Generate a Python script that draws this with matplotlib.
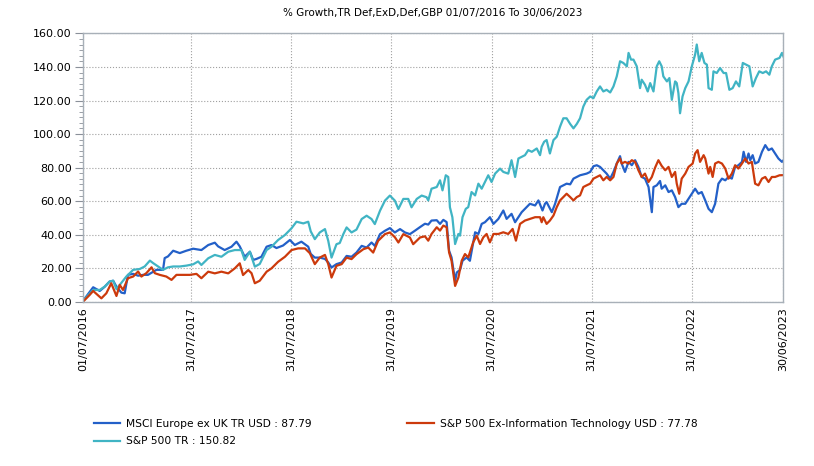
import matplotlib
matplotlib.use("Agg")
import matplotlib.pyplot as plt
import matplotlib.ticker as ticker
import numpy as np

# months after 01/07/2016 and % growth
msci_months = [0, 1.2, 2.0, 2.6, 3.2, 3.6, 4.0, 4.6, 5.0, 5.4, 6.0, 6.6, 7.2, 7.8, 8.8, 9.6, 9.8,
               10.2, 10.8, 11.6, 12.4, 13.2, 14.2, 15.0, 15.8, 16.2, 17.0, 17.8, 18.4, 18.8,
               19.4, 20.0, 20.4, 20.8, 21.4, 22.0, 22.6, 23.2, 24.0, 24.8, 25.4, 26.2, 27.0,
               27.3, 27.8, 28.4, 29.0, 29.4, 29.8, 30.4, 31.0, 31.6, 32.2, 32.8, 33.4, 34.0,
               34.6, 35.0, 35.6, 36.2, 36.8, 37.4, 38.0, 38.6, 39.2, 39.8, 40.4, 41.0, 41.4,
               41.8, 42.4, 42.8, 43.2, 43.6, 43.9, 44.2, 44.6, 44.8, 45.2, 45.5, 46.0, 46.4,
               47.0, 47.4, 47.8, 48.2, 48.8, 49.2, 49.8, 50.4, 50.8, 51.4, 51.8, 52.2, 52.6,
               53.0, 53.6, 54.2, 54.6, 55.1, 55.4, 55.6, 56.2, 56.6, 57.2, 57.6, 58.0, 58.4,
               58.8, 59.2, 59.6, 60.4, 60.8, 61.2, 61.6, 62.0, 62.4, 62.8, 63.2, 63.6, 64.0,
               64.4, 64.6, 65.0, 65.4, 65.8, 66.2, 66.6, 67.0, 67.4, 67.8, 68.2, 68.4, 68.8,
               69.2, 69.4, 69.8, 70.2, 70.6, 71.0, 71.4, 71.8, 72.2, 72.6, 73.0, 73.4, 73.8,
               74.2, 74.6, 75.0, 75.4, 75.8, 76.2, 76.6, 77.0, 77.4, 77.8, 78.2, 78.6, 79.0,
               79.2, 79.5, 79.8, 80.0, 80.3, 80.6, 81.0, 81.4, 81.8, 82.2, 82.6, 83.0, 83.4,
               83.8, 84.0]
msci_values = [0.5, 8.6, 6.4, 8.9, 12.0, 12.5, 9.0, 5.4, 5.0, 16.0, 16.6, 15.5, 16.0, 16.0, 19.0,
               19.0, 26.0, 27.0, 30.4, 29.0, 30.4, 31.6, 30.8, 33.8, 35.2, 33.0, 30.8, 32.8,
               35.8, 33.0, 26.8, 29.8, 24.9, 25.5, 26.8, 32.8, 33.8, 32.0, 33.5, 36.8, 33.8,
               35.8, 32.8, 28.5, 26.3, 26.3, 25.5, 23.4, 20.4, 22.4, 23.4, 27.3, 26.8, 29.3,
               33.3, 32.3, 35.3, 33.3, 40.3, 42.3, 43.9, 41.3, 43.3, 41.3, 40.3, 42.3, 44.5,
               46.5, 46.0, 48.4, 48.6, 46.4, 48.8, 47.5, 30.4, 26.4, 12.4, 17.4, 19.0, 24.4,
               26.4, 24.4, 41.4, 40.4, 46.4, 47.4, 50.4, 46.4, 49.4, 54.4, 49.4, 52.4, 47.4,
               50.4, 53.4, 55.4, 58.4, 57.4, 60.4, 54.4, 58.4, 59.4, 53.4, 58.4, 68.4, 69.4,
               70.4, 70.0, 73.4, 74.4, 75.4, 76.4, 77.4, 80.8, 81.4, 80.4, 78.4, 76.4, 73.4,
               77.4, 82.4, 86.8, 82.4, 77.4, 83.4, 81.4, 84.4, 80.4, 74.4, 73.4, 68.4, 53.4,
               68.4, 69.4, 72.0, 67.4, 69.4, 65.4, 66.4, 62.4, 56.4, 58.4, 58.4, 61.4, 64.4,
               67.4, 64.4, 65.4, 60.4, 55.4, 53.4, 58.4, 70.4, 73.4, 72.4, 74.4, 73.4, 80.4,
               81.4, 83.4, 89.4, 83.4, 88.4, 84.4, 87.4, 82.4, 83.4, 89.4, 93.4, 90.4, 91.4,
               88.4, 85.4, 83.4, 84.5]

sp500_months = [0, 1.2, 2.0, 2.6, 3.2, 3.6, 4.0, 4.4, 5.2, 6.0, 6.8, 7.4, 8.0, 8.4, 9.0, 9.6,
                10.2, 10.8, 11.6, 12.4, 13.2, 13.8, 14.2, 15.0, 15.8, 16.6, 17.4, 18.2, 19.0,
                19.4, 20.0, 20.6, 21.2, 22.0, 22.6, 23.4, 24.2, 25.0, 25.6, 26.4, 27.0, 27.3,
                27.8, 28.4, 29.0, 29.4, 29.8, 30.4, 30.8, 31.2, 31.6, 32.2, 32.8, 33.4, 34.0,
                34.6, 35.0, 35.6, 36.2, 36.8, 37.4, 37.8, 38.4, 39.0, 39.4, 40.0, 40.6, 41.2,
                41.4, 41.8, 42.4, 42.8, 43.1, 43.5, 43.8, 44.0, 44.3, 44.6, 45.0, 45.2, 45.5,
                45.9, 46.2, 46.6, 47.0, 47.4, 47.8, 48.2, 48.6, 49.0, 49.4, 50.0, 50.4, 51.0,
                51.4, 51.8, 52.2, 52.6, 53.0, 53.4, 53.8, 54.4, 54.8, 55.0, 55.3, 55.6, 56.0,
                56.4, 56.8, 57.2, 57.6, 58.0, 58.4, 58.8, 59.2, 59.6, 60.0, 60.4, 60.8, 61.2,
                61.6, 62.0, 62.4, 62.8, 63.2, 63.6, 64.0, 64.4, 64.8, 65.2, 65.4, 65.7, 66.0,
                66.4, 66.8, 67.0, 67.4, 67.7, 68.0, 68.4, 68.8, 69.1, 69.4, 69.6, 70.0, 70.3,
                70.6, 71.0, 71.2, 71.4, 71.6, 71.9, 72.2, 72.6, 73.0, 73.4, 73.6, 73.9, 74.2,
                74.5, 74.8, 75.0, 75.4, 75.6, 76.0, 76.4, 76.8, 77.1, 77.5, 77.9, 78.3, 78.7,
                79.1, 79.5, 79.9, 80.3, 80.7, 81.1, 81.5, 81.9, 82.3, 82.6, 83.0, 83.5, 83.8,
                84.0]
sp500_values = [0.5, 7.0, 7.0, 9.0, 12.0, 12.5, 7.5, 10.0, 15.0, 19.0, 19.5, 21.0, 24.5, 23.0,
                21.0, 19.0, 20.5, 21.0, 21.0, 21.5, 22.3, 24.0, 21.9, 25.9, 27.9, 26.8, 29.8,
                30.8, 30.8, 24.9, 29.8, 20.9, 22.5, 30.8, 32.8, 36.8, 39.8, 43.8, 47.7, 46.7,
                47.7, 42.0, 37.3, 41.3, 43.3, 36.3, 26.3, 34.3, 35.0, 40.3, 44.3, 41.3, 43.0,
                49.3, 51.3, 49.3, 46.3, 54.3, 60.3, 63.3, 60.3, 55.3, 61.3, 61.3, 56.3, 61.3,
                63.3, 62.3, 60.4, 67.4, 68.4, 72.4, 66.4, 75.4, 74.4, 56.4, 50.4, 34.4, 40.4,
                39.4, 50.4, 55.4, 56.4, 65.4, 63.4, 70.4, 67.4, 71.4, 75.4, 71.4, 76.4, 79.4,
                77.4, 76.4, 84.4, 74.4, 85.4, 86.4, 87.4, 90.4, 89.4, 91.4, 87.4, 92.4, 95.4,
                96.4, 88.4, 96.4, 98.4, 104.4, 109.4, 109.4, 106.0, 103.4, 106.0, 109.4, 116.4,
                120.4, 122.4, 121.4, 125.4, 128.4, 125.4, 126.4, 124.8, 128.4, 134.4, 143.4,
                142.4, 140.4, 148.4, 144.4, 144.4, 140.4, 127.4, 132.4, 129.4, 125.4, 130.4,
                125.4, 140.4, 143.4, 140.4, 134.4, 131.4, 133.4, 120.4, 131.4, 130.4, 124.4,
                112.4, 122.4, 127.4, 131.4, 140.4, 147.4, 153.4, 143.4, 148.4, 142.4, 141.4,
                127.4, 126.4, 137.4, 136.4, 139.4, 136.4, 136.4, 126.4, 127.4, 131.4, 128.4,
                142.4, 141.4, 140.4, 128.4, 133.4, 137.4, 136.4, 137.4, 135.4, 140.4, 144.4,
                145.4, 148.4, 146.0]

exit_months = [0, 0.8, 1.2, 2.2, 2.8, 3.4, 4.0, 4.4, 4.8, 5.4, 6.0, 6.6, 7.0, 7.6, 8.2, 8.6,
               9.2, 10.0, 10.6, 11.2, 12.0, 12.8, 13.6, 14.2, 15.0, 15.8, 16.6, 17.4, 18.2,
               18.8, 19.2, 19.8, 20.2, 20.6, 21.2, 22.0, 22.6, 23.4, 24.2, 25.0, 25.8, 26.6,
               27.2, 27.8, 28.4, 29.0, 29.4, 29.8, 30.4, 31.0, 31.6, 32.2, 32.8, 33.6, 34.2,
               34.8, 35.4, 36.2, 36.8, 37.4, 37.8, 38.4, 39.2, 39.6, 40.4, 41.0, 41.4, 41.8,
               42.4, 42.8, 43.2, 43.6, 43.9, 44.2, 44.6, 45.0, 45.4, 45.8, 46.2, 46.8, 47.2,
               47.6, 48.0, 48.4, 48.8, 49.2, 49.8, 50.4, 51.0, 51.5, 51.9, 52.4, 53.0, 53.6,
               54.2, 54.8, 55.0, 55.2, 55.6, 56.0, 56.4, 56.8, 57.2, 57.6, 58.0, 58.4, 58.8,
               59.2, 59.6, 60.0, 60.4, 60.8, 61.2, 61.6, 62.0, 62.4, 62.8, 63.2, 63.6, 64.0,
               64.4, 64.6, 65.0, 65.4, 65.8, 66.2, 66.6, 67.0, 67.4, 67.8, 68.2, 68.6, 69.0,
               69.4, 69.8, 70.2, 70.6, 71.0, 71.2, 71.5, 71.8, 72.2, 72.6, 73.1, 73.4, 73.7,
               74.0, 74.4, 74.6, 75.0, 75.2, 75.5, 75.8, 76.2, 76.6, 77.0, 77.4, 77.8, 78.2,
               78.6, 79.0, 79.4, 79.8, 80.2, 80.6, 81.0, 81.4, 81.8, 82.2, 82.6, 83.0, 83.5,
               84.0]
exit_values = [0.0, 4.0, 6.4, 2.0, 5.0, 11.0, 3.4, 10.0, 7.0, 14.0, 15.0, 18.0, 15.0, 17.0,
               20.5, 17.0, 16.0, 15.0, 13.0, 16.0, 16.0, 16.0, 16.6, 14.0, 17.9, 16.9, 17.9,
               16.9, 19.9, 22.9, 15.9, 18.9, 17.0, 11.0, 12.5, 17.9, 19.9, 23.8, 26.8, 30.8,
               31.8, 31.8, 28.9, 22.4, 26.3, 27.9, 22.4, 14.4, 21.4, 22.4, 26.3, 25.4, 28.3,
               31.3, 32.3, 29.3, 36.3, 40.3, 41.3, 38.5, 35.3, 40.3, 38.3, 34.3, 38.3, 39.0,
               36.4, 40.4, 44.4, 42.4, 45.4, 44.4, 29.4, 24.4, 9.4, 14.4, 24.4, 28.4, 26.4,
               35.4, 39.4, 34.4, 38.4, 40.4, 35.4, 40.4, 40.4, 41.4, 40.4, 43.4, 36.4, 46.4,
               48.4, 49.4, 50.4, 50.4, 47.4, 50.4, 46.4, 48.4, 51.4, 56.4, 60.4, 62.4, 64.4,
               62.4, 60.4, 62.4, 63.4, 68.4, 69.4, 70.4, 73.4, 74.4, 75.4, 72.4, 74.4, 72.4,
               74.4, 82.4, 85.4, 82.4, 83.4, 82.4, 84.4, 83.4, 78.4, 74.4, 76.4, 71.4, 74.4,
               80.0, 84.4, 81.0, 78.4, 80.4, 74.4, 77.4, 70.4, 64.4, 73.4, 76.4, 80.4, 82.4,
               88.4, 90.4, 83.4, 87.4, 85.4, 76.4, 80.4, 74.4, 82.4, 83.4, 82.4, 79.4, 73.4,
               76.4, 81.4, 79.4, 82.4, 85.4, 82.4, 83.4, 70.4, 69.4, 73.4, 74.4, 71.4, 74.4,
               74.4, 75.4, 75.5]

labels = ["MSCI Europe ex UK TR USD : 87.79",
          "S&P 500 Ex-Information Technology USD : 77.78",
          "S&P 500 TR : 150.82"]
tick_dates = ["2016-07-01", "2017-07-31", "2018-07-31", "2019-07-31",
              "2020-07-31", "2021-07-31", "2022-07-31", "2023-06-30"]
tick_labels = ["01/07/2016", "31/07/2017", "31/07/2018", "31/07/2019",
               "31/07/2020", "31/07/2021", "31/07/2022", "30/06/2023"]

start = np.datetime64("2016-07-01")


def to_dates(months):
    days = np.round(np.array(months) * 30.4375).astype(int)
    return start + days.astype("timedelta64[D]")


plt.rcParams['font.family'] = ['DejaVu Sans']

fig = plt.figure(figsize=(8.14, 4.66), dpi=100)
ax = fig.add_axes([0.102, 0.3526, 0.860, 0.5756])

blue = '#2360c8'
red = '#cc3a0c'
cyan = '#40b4c4'

l1, = ax.plot(to_dates(msci_months), msci_values, color=blue, lw=1.6)
l3, = ax.plot(to_dates(sp500_months), sp500_values, color=cyan, lw=1.6)
l2, = ax.plot(to_dates(exit_months), exit_values, color=red, lw=1.6)

ticks = np.array(tick_dates, dtype="datetime64[D]")
ax.set_xlim(ticks[0], ticks[-1])
ax.set_xticks(ticks)
ax.set_xticklabels(tick_labels, rotation=90, fontsize=8)
ax.set_ylim(0, 160)
ax.yaxis.set_major_locator(ticker.MultipleLocator(20))
ax.yaxis.set_minor_locator(ticker.AutoMinorLocator(6))
ax.yaxis.set_major_formatter(ticker.FormatStrFormatter('%.2f'))
ax.tick_params(axis='y', labelsize=8, length=6, color='#8a9099', pad=2)
ax.tick_params(axis='y', which='minor', length=3, color='#8a9099')
ax.tick_params(axis='x', length=0, pad=4)

ax.grid(True, color='#a0a0a0', linestyle=':', linewidth=0.8)
ax.set_axisbelow(True)
for s in ax.spines.values():
    s.set_color('#a8b0b8')
    s.set_linewidth(1.0)

fig.text(0.531, 0.972, "% Growth,TR Def,ExD,Def,GBP 01/07/2016 To 30/06/2023",
         ha='center', va='center', fontsize=7.5)

fig.legend([l1, l3, l2], [labels[0], labels[2], labels[1]], ncol=2, loc='upper left',
           bbox_to_anchor=(0.115, 0.101), frameon=False, fontsize=7.7,
           handlelength=2.5, handletextpad=0.55, columnspacing=8.9, labelspacing=0.7,
           borderaxespad=0, borderpad=0)

fig.savefig("out.png", dpi=100)
